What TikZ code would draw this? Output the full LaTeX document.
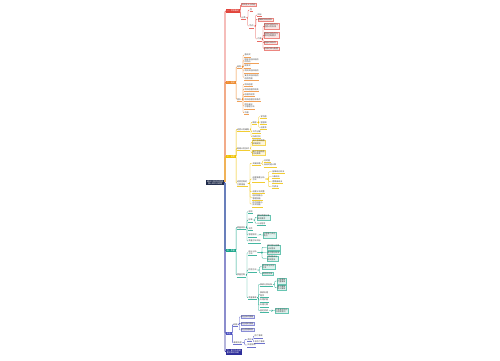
\documentclass[tikz,border=0pt]{standalone}
\usepackage{fontspec}
\newfontfamily\cjk{Noto Sans CJK SC}
\usetikzlibrary{calc}

\definecolor{mapnavy}{HTML}{1E2A4A}
\definecolor{mapred}{HTML}{E2453C}
\definecolor{maporange}{HTML}{EE8A2E}
\definecolor{mapyellow}{HTML}{EFC100}
\definecolor{mapteal}{HTML}{17A589}
\definecolor{mapblue}{HTML}{4A4FC0}
\definecolor{mapindigo}{HTML}{2E2E9A}

\tikzset{
  every node/.style={font=\cjk\fontsize{2}{2.4}\selectfont, anchor=west, inner sep=0.5pt},
  rootbox/.style={fill=mapnavy, text=white, align=center, inner sep=0.8pt},
  mainbox/.style={fill=#1, text=white, inner sep=0.7pt, align=left},
  subbox/.style={draw=#1!65, fill=#1!14, line width=0.25pt, align=left, text=black!75},
  leaf/.style={align=left, text=black!75,
    append after command={(\tikzlastnode.south west) edge[draw=#1!80, line width=0.25pt] (\tikzlastnode.south east)}},
  link/.style={draw=#1, line width=0.35pt, rounded corners=0.8pt},
  trunk/.style={link=#1, line width=0.6pt},
}

\begin{document}
\begin{tikzpicture}[x=1pt, y=-1pt]
  \useasboundingbox (0,0) rectangle (500,360);

  % ---- root -----------------------------------------
  \node[rootbox] (R) at (206,182.5) {建设工程项目管理\\核心知识点梳理};

  % ---- branch 1 (red) -------------------------------
  \node[mainbox=mapred] (A) at (226,11) {一、项目概述};
  \node[subbox=mapred] (A1) at (241,5) {项目含义与特征};
  \node[leaf=mapred] (A2) at (241,17.7) {分类};
  \node[leaf=mapred] (A21) at (249.5,10) {型};
  \node[leaf=mapred] (A22) at (249,26) {特点};
  \node[leaf=mapred] (A221) at (257,15) {目标};
  \node[subbox=mapred] (A222) at (257.5,19.3) {明确的目标体系};
  \node[leaf=mapred] (A223) at (257,39) {约束};
  \node[subbox=mapred] (A2231) at (263.5,26) {时间约束条件与\\进度计划安排};
  \node[subbox=mapred] (A2232) at (263.5,35) {费用约束条件与\\成本控制要求};
  \node[subbox=mapred] (A2233) at (263.5,42.7) {质量约束条件};
  \node[subbox=mapred] (A2234) at (263.5,48.3) {资源约束与配置};

  % ---- branch 2 (orange) ----------------------------
  \node[mainbox=maporange] (B) at (226,82.3) {二、组织};
  \node[leaf=maporange] (B1) at (236.5,66.7) {结构};
  \node[leaf=maporange] (B2) at (236.5,99.3) {团队};
  \node[leaf=maporange] (B11) at (244,55) {直线式};
  \node[leaf=maporange] (B12) at (244,60.5) {职能式组织结构\\的特点};
  \node[leaf=maporange] (B13) at (244,66) {矩阵式};
  \node[leaf=maporange] (B14) at (244,71) {项目式组织结构};
  \node[leaf=maporange] (B15) at (244,77.3) {复合式组织结构\\适用范围};
  \node[leaf=maporange] (B21) at (244,84.3) {项目经理};
  \node[leaf=maporange] (B22) at (244,89.3) {项目经理的职责};
  \node[leaf=maporange] (B23) at (244,94.3) {经理的权限};
  \node[leaf=maporange] (B24) at (244,99.3) {项目经理任职条件};
  \node[leaf=maporange] (B25) at (244,106) {团队建设\\与管理方法};
  \node[leaf=maporange] (B26) at (244,112.7) {沟通};

  % ---- branch 3 (yellow) ----------------------------
  \node[mainbox=mapyellow] (C) at (226,156.7) {三、进度};
  \node[leaf=mapyellow] (C1) at (236.5,129.3) {进度计划编制};
  \node[leaf=mapyellow] (C2) at (236.5,148.3) {网络计划技术};
  \node[leaf=mapyellow] (C3) at (236.5,183.3) {进度控制的\\主要措施};
  \node[leaf=mapyellow] (C11) at (252,122.3) {横道};
  \node[leaf=mapyellow] (C111) at (260,116.7) {甘特图};
  \node[leaf=mapyellow] (C112) at (260,122.3) {里程碑};
  \node[leaf=mapyellow] (C113) at (260,127.3) {进度表};
  \node[leaf=mapyellow] (C12) at (252,131.7) {工作分解};
  \node[leaf=mapyellow] (C13) at (252,136.7) {持续时间};
  \node[subbox=mapyellow] (C21) at (252,142.3) {双代号网络图\\绘制规则};
  \node[subbox=mapyellow] (C22) at (252,152.7) {单代号网络图\\时间参数};
  \node[leaf=mapyellow] (C31) at (252,163.3) {关键线路};
  \node[leaf=mapyellow] (C311) at (263.5,160.7) {总时差};
  \node[leaf=mapyellow] (C312) at (263.5,165) {自由时差计算};
  \node[leaf=mapyellow] (C32) at (252,179) {进度偏差分析\\方法};
  \node[leaf=mapyellow] (C321) at (271.7,171.7) {前锋线比较法};
  \node[leaf=mapyellow] (C322) at (271.7,176.7) {S曲线法};
  \node[leaf=mapyellow] (C323) at (271.7,181.7) {香蕉曲线法};
  \node[leaf=mapyellow] (C324) at (271.7,186.7) {列表法};
  \node[leaf=mapyellow] (C33) at (252,191.7) {进度计划调整};
  \node[leaf=mapyellow] (C34) at (252,197.3) {组织措施与\\管理措施};
  \node[leaf=mapyellow] (C35) at (252,204) {经济措施与\\技术措施};

  % ---- branch 4 (teal) ------------------------------
  \node[mainbox=mapteal] (D) at (226,250.7) {四、质量};
  \node[leaf=mapteal] (D1) at (236.5,227.3) {质量体系};
  \node[leaf=mapteal] (D2) at (236.5,275) {质量控制};
  \node[leaf=mapteal] (D11) at (248,211.7) {原则};
  \node[leaf=mapteal] (D12) at (248,220) {标准};
  \node[subbox=mapteal] (D121) at (256.7,217.3) {国际质量标准\\体系要求};
  \node[leaf=mapteal] (D122) at (256.7,223.3) {认证程序};
  \node[leaf=mapteal] (D13) at (248,228.3) {文件};
  \node[leaf=mapteal] (D14) at (248,235) {管理原则};
  \node[subbox=mapteal] (D141) at (263,235) {以顾客为关注\\焦点};
  \node[leaf=mapteal] (D15) at (248,241) {质量方针目标};
  \node[leaf=mapteal] (D21) at (248,252.7) {统计分析\\方法};
  \node[subbox=mapteal] (D211) at (266.7,247.3) {排列图与因果\\分析图法};
  \node[subbox=mapteal] (D212) at (266.7,252.7) {直方图分析法};
  \node[subbox=mapteal] (D213) at (266.7,258.3) {控制图法与\\相关图法};
  \node[leaf=mapteal] (D22) at (248,270) {检验方法};
  \node[subbox=mapteal] (D221) at (261.7,266.7) {目测法与实测\\方法};
  \node[subbox=mapteal] (D222) at (261.7,273.3) {试验检测法};
  \node[leaf=mapteal] (D23) at (248,297.7) {质量事故};
  \node[leaf=mapteal] (D231) at (259.5,284.3) {事故分类标准};
  \node[subbox=mapteal] (D2311) at (276.7,281) {一般事故\\严重事故};
  \node[subbox=mapteal] (D2312) at (276.7,287.7) {重大事故\\特大事故};
  \node[leaf=mapteal] (D232) at (259.5,294.3) {事故处理\\程序};
  \node[leaf=mapteal] (D233) at (259.5,300) {处理依据};
  \node[leaf=mapteal] (D234) at (259.5,305) {处理方案};
  \node[leaf=mapteal] (D235) at (259.5,310.7) {鉴定验收};
  \node[subbox=mapteal] (D2351) at (275,310.7) {检查鉴定结论\\与验收意见};

  % ---- branch 5 (blue) ------------------------------
  \node[mainbox=mapblue] (E) at (226,333.3) {安全};
  \node[leaf=mapblue] (E1) at (233,324.3) {措施};
  \node[leaf=mapblue] (E2) at (233,342.7) {事故处理};
  \node[subbox=mapblue] (E11) at (240.5,316.7) {安全技术措施};
  \node[subbox=mapblue] (E12) at (240.5,323.3) {安全组织措施};
  \node[subbox=mapblue] (E13) at (240.5,330) {安全管理制度};
  \node[leaf=mapblue] (E21) at (247,339.3) {类别};
  \node[leaf=mapblue] (E211) at (254,336) {伤亡事故};
  \node[leaf=mapblue] (E212) at (254,341.7) {非伤亡事故};
  \node[leaf=mapblue] (E22) at (247,345) {处理原则};

  % ---- branch 6 (indigo) ----------------------------
  \node[mainbox=mapindigo] (F) at (226,351.7) {六、复习与总结\\重点难点归纳};

  % ---- trunk: root to main topics -------------------
  \foreach \m/\col in {A/mapred, B/maporange, C/mapyellow, D/mapteal, E/mapblue, F/mapindigo}
    \draw[trunk=\col] (R.east) -- ($(R.east)!0.5!(R.east-|\m.west)$) |- (\m.west);

  % ---- connectors inside each branch ----------------
  \foreach \p/\c in {A/A1, A/A2, A2/A21, A2/A22, A22/A221, A22/A222, A22/A223,
      A223/A2231, A223/A2232, A223/A2233, A223/A2234}
    \draw[link=mapred] (\p.east) -- ($(\p.east)!0.5!(\p.east-|\c.west)$) |- (\c.west);
  \foreach \p/\c in {B/B1, B/B2, B1/B11, B1/B12, B1/B13, B1/B14, B1/B15,
      B2/B21, B2/B22, B2/B23, B2/B24, B2/B25, B2/B26}
    \draw[link=maporange] (\p.east) -- ($(\p.east)!0.5!(\p.east-|\c.west)$) |- (\c.west);
  \foreach \p/\c in {C/C1, C/C2, C/C3, C1/C11, C1/C12, C1/C13, C11/C111, C11/C112, C11/C113,
      C2/C21, C2/C22, C3/C31, C3/C32, C3/C33, C3/C34, C3/C35, C31/C311, C31/C312,
      C32/C321, C32/C322, C32/C323, C32/C324}
    \draw[link=mapyellow] (\p.east) -- ($(\p.east)!0.5!(\p.east-|\c.west)$) |- (\c.west);
  \foreach \p/\c in {D/D1, D/D2, D1/D11, D1/D12, D1/D13, D1/D14, D1/D15, D12/D121, D12/D122,
      D14/D141, D2/D21, D2/D22, D2/D23, D21/D211, D21/D212, D21/D213, D22/D221, D22/D222,
      D23/D231, D23/D232, D23/D233, D23/D234, D23/D235, D231/D2311, D231/D2312, D235/D2351}
    \draw[link=mapteal] (\p.east) -- ($(\p.east)!0.5!(\p.east-|\c.west)$) |- (\c.west);
  \foreach \p/\c in {E/E1, E/E2, E1/E11, E1/E12, E1/E13, E2/E21, E2/E22, E21/E211, E21/E212}
    \draw[link=mapblue] (\p.east) -- ($(\p.east)!0.5!(\p.east-|\c.west)$) |- (\c.west);
\end{tikzpicture}
\end{document}
